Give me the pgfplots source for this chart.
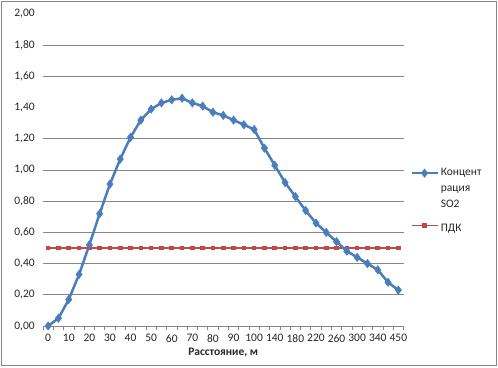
\documentclass[border=0pt]{standalone}
\usepackage{fontspec}
\setmainfont{Carlito}
\usepackage{pgfplots}
\pgfplotsset{compat=1.18}
\definecolor{serblue}{HTML}{4A7EBB}
\definecolor{serred}{HTML}{BE4B48}
\definecolor{gridgray}{HTML}{868686}
\pgfplotstableread{
idx conc pdk
0 0.00 0.5
1 0.05 0.5
2 0.17 0.5
3 0.33 0.5
4 0.52 0.5
5 0.72 0.5
6 0.91 0.5
7 1.07 0.5
8 1.21 0.5
9 1.32 0.5
10 1.39 0.5
11 1.43 0.5
12 1.45 0.5
13 1.46 0.5
14 1.43 0.5
15 1.41 0.5
16 1.37 0.5
17 1.35 0.5
18 1.32 0.5
19 1.29 0.5
20 1.26 0.5
21 1.14 0.5
22 1.03 0.5
23 0.92 0.5
24 0.83 0.5
25 0.74 0.5
26 0.66 0.5
27 0.60 0.5
28 0.54 0.5
29 0.48 0.5
30 0.44 0.5
31 0.40 0.5
32 0.36 0.5
33 0.28 0.5
34 0.23 0.5
}\datatable
\begin{document}
\fontsize{11.5bp}{14bp}\selectfont
\begin{tikzpicture}[x=1bp,y=1bp]
\useasboundingbox (0,0) rectangle (498,367);
\draw[gridgray, line width=0.8bp] (1.5,1.5) rectangle (496.5,365.5);
\begin{axis}[
  at={(43bp,41bp)}, anchor=south west,
  scale only axis, width=360.5bp, height=312bp,
  xmin=-0.5, xmax=34.5, ymin=0, ymax=2,
  axis x line*=bottom, axis y line*=left,
  y axis line style={draw=none},
  x axis line style={gridgray, line width=0.8bp, -},
  xtick={0,2,...,34},
  xticklabels={0,10,20,30,40,50,60,70,80,90,100,140,180,220,260,300,340,450},
  major x tick style={draw=none},
  minor xtick={-0.5,0.5,...,34.5},
  minor x tick style={gridgray, line width=0.8bp},
  minor tick length=4bp,
  tick align=outside,
  ytick={0,0.2,0.4,0.6,0.8,1,1.2,1.4,1.6,1.8,2},
  major y tick style={draw=none},
  /pgf/number format/assume math mode=true,
  y tick label style={/pgf/number format/.cd, fixed, fixed zerofill, precision=2, use comma},
  tick label style={text=black!85, font=\fontsize{11.5bp}{14bp}\selectfont},
  extra y ticks={0.2,0.4,0.6,0.8,1,1.2,1.6,1.8},
  extra y tick labels={},
  extra y tick style={ymajorgrids=true, major y tick style={draw=none}},
  major grid style={gridgray, line width=0.8bp},
  xlabel={\textbf{Расстояние, м}},
  xlabel style={font=\fontsize{11.5bp}{14bp}\selectfont, text=black!85, yshift=2bp},
  legend style={at={(1.01,0.4)}, anchor=west, draw=none, fill=none,
    font=\fontsize{11.5bp}{14bp}\selectfont, text=black!85, row sep=0bp,
    nodes={text height=8.5bp, text depth=3bp, inner ysep=2.25bp}},
  legend cell align=left,
  legend image code/.code={\draw[mark repeat=2,mark phase=2,#1] plot coordinates {(0bp,0bp)(13bp,0bp)(26bp,0bp)};},
  clip=false,
]
\addlegendimage{serblue, line width=2.5bp, mark=diamond*, mark size=4.2bp, mark options={solid, fill=serblue, draw=serblue, line width=0.5bp}}
\addlegendentry{Концент}
\addlegendimage{empty legend}
\addlegendentry{рация}
\addlegendimage{empty legend}
\addlegendentry{SO2}
\addlegendimage{serred, line width=1.2bp, mark=square*, mark size=1.7bp, mark options={solid, fill=serred, draw=serred}}
\addlegendentry[text height=16.5bp]{ПДК}
\addplot[forget plot, serred, line width=1.2bp, mark=square*, mark size=1.7bp, mark options={solid, fill=serred, draw=serred}] table[x=idx, y=pdk] {\datatable};
\addplot[forget plot, serblue, line width=2.5bp, mark=diamond*, mark size=4.2bp, mark options={solid, fill=serblue, draw=serblue, line width=0.5bp}] table[x=idx, y=conc] {\datatable};
\end{axis}
\end{tikzpicture}
\end{document}
